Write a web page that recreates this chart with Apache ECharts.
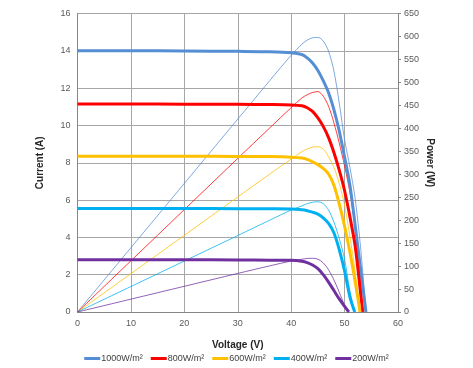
<!DOCTYPE html>
<html>
<head>
<meta charset="utf-8">
<script src="https://cdn.jsdelivr.net/npm/echarts@6/dist/echarts.min.js"></script>
<style>html,body{margin:0;padding:0;background:#fff}#c{width:473px;height:368px}</style>
</head>
<body>
<div id="c"></div>
<script>
// ---- data ----
const seriesNames = ['1000W/m²', '800W/m²', '600W/m²', '400W/m²', '200W/m²'];
const xTicks = [0, 10, 20, 30, 40, 50, 60];
const currentTicks = [0, 2, 4, 6, 8, 10, 12, 14, 16];
const powerTicks = [0, 50, 100, 150, 200, 250, 300, 350, 400, 450, 500, 550, 600, 650];

// 1000 W/m2
const v1000 = [0, 10, 20, 30, 36, 40, 42, 43, 44, 45, 46, 47, 48, 49, 50, 51, 52, 53, 54];
const i1000 = [14.0, 14.0, 13.99, 13.97, 13.95, 13.9, 13.8, 13.62, 13.35, 12.95, 12.4, 11.75, 10.85, 9.7, 8.3, 6.8, 4.6, 2.3, 0];
const p1000 = [0, 140, 280, 420, 504, 559, 583, 592, 597, 598, 590, 568, 525, 455, 375, 315, 245, 140, 0];
// 800 W/m2
const v800 = [0, 10, 20, 30, 36, 40, 42, 43, 44, 45, 46, 47, 48, 49, 50, 51, 52, 53, 53.4];
const i800 = [11.15, 11.15, 11.14, 11.13, 11.12, 11.1, 11.05, 10.95, 10.75, 10.4, 9.95, 9.35, 8.55, 7.6, 6.5, 5.1, 3.5, 1.0, 0];
const p800 = [0, 111.5, 223, 334.5, 401, 445, 466, 473, 478, 480, 470, 448, 412, 368, 318, 260, 185, 60, 0];
// 600 W/m2
const v600 = [0, 10, 20, 30, 36, 40, 42, 43, 44, 45, 46, 47, 48, 49, 50, 51, 52, 52.9];
const i600 = [8.35, 8.35, 8.35, 8.34, 8.33, 8.3, 8.25, 8.18, 8.05, 7.9, 7.7, 7.4, 6.8, 5.8, 4.6, 3.2, 1.6, 0];
const p600 = [0, 83.5, 167, 250.5, 300.5, 333, 349, 355, 359, 360, 355, 338, 315, 280, 232, 165, 85, 0];
// 400 W/m2
const v400 = [0, 10, 20, 30, 36, 40, 42, 43, 44, 45, 46, 47, 48, 49, 50, 51, 51.9];
const i400 = [5.55, 5.55, 5.55, 5.54, 5.53, 5.52, 5.48, 5.43, 5.35, 5.25, 5.05, 4.75, 4.25, 3.35, 2.2, 0.8, 0];
const p400 = [0, 55.5, 111, 166.5, 200, 222, 231, 236, 239, 240, 236, 222, 196, 160, 115, 45, 0];
// 200 W/m2
const v200 = [0, 10, 20, 30, 36, 40, 42, 43, 44, 45, 46, 47, 48, 49, 50, 50.8];
const i200 = [2.8, 2.8, 2.8, 2.79, 2.78, 2.77, 2.72, 2.65, 2.52, 2.32, 2.0, 1.6, 1.15, 0.7, 0.3, 0];
const p200 = [0, 28, 56, 84, 100.5, 111, 115, 116.5, 117, 115, 107, 92, 70, 43, 15, 0];

const colors = ['#558ed5', '#ff0000', '#ffc000', '#00b0f0', '#7030a0'];
const voltages = [v1000, v800, v600, v400, v200];
const currents = [i1000, i800, i600, i400, i200];
const powers = [p1000, p800, p600, p400, p200];

const zip = (a, b) => a.map((x, k) => [x, b[k]]);
const series = [];
powers.forEach((p, k) => {
  series.push({
    name: 'P ' + seriesNames[k], type: 'line', yAxisIndex: 1,
    data: zip(voltages[k], p), showSymbol: false, smooth: 0.3,
    lineStyle: { color: colors[k], width: 0.9, opacity: 0.85 }, itemStyle: { color: colors[k] },
    z: 2, silent: true
  });
});
currents.forEach((c, k) => {
  series.push({
    name: seriesNames[k], type: 'line', yAxisIndex: 0,
    data: zip(voltages[k], c), showSymbol: false, smooth: 0.3,
    lineStyle: { color: colors[k], width: 3 }, itemStyle: { color: colors[k] },
    z: 3
  });
});

const labelFont = { color: '#595959', fontSize: 9, fontFamily: 'Liberation Sans, Arial, sans-serif' };
const nameFont = { color: '#262626', fontSize: 10, fontWeight: 'bold', fontFamily: 'Liberation Sans, Arial, sans-serif' };

const chart = echarts.init(document.getElementById('c'), null, { renderer: 'canvas' });
chart.setOption({
  animation: false,
  backgroundColor: '#ffffff',
  color: colors,
  grid: { left: 77.5, right: 75, top: 13.5, bottom: 56, containLabel: false },
  legend: {
    data: seriesNames.map((n, k) => ({ name: n, icon: 'rect', itemStyle: { color: colors[k] } })),
    top: 349, left: 'center', itemWidth: 16, itemHeight: 3, itemGap: 8,
    textStyle: { color: '#404040', fontSize: 9, fontFamily: 'Liberation Sans, Arial, sans-serif', padding: [0, 0, 0, -4] }
  },
  xAxis: {
    type: 'value', min: xTicks[0], max: xTicks[xTicks.length - 1], interval: xTicks[1] - xTicks[0],
    name: 'Voltage (V)', nameLocation: 'middle', nameGap: 28, nameTextStyle: nameFont,
    axisLine: { show: true, lineStyle: { color: '#868686', width: 1 } },
    axisTick: { show: false },
    axisLabel: Object.assign({ margin: 7 }, labelFont),
    splitLine: { show: true, lineStyle: { color: '#a6a6a6', width: 1 } }
  },
  yAxis: [{
    type: 'value', position: 'left', min: currentTicks[0], max: currentTicks[currentTicks.length - 1],
    interval: currentTicks[1] - currentTicks[0],
    name: 'Current (A)', nameLocation: 'middle', nameGap: 32, nameTextStyle: nameFont,
    axisLine: { show: true, lineStyle: { color: '#868686', width: 1 } },
    axisTick: { show: false },
    axisLabel: Object.assign({ margin: 7 }, labelFont),
    splitLine: { show: true, lineStyle: { color: '#a6a6a6', width: 1 } }
  }, {
    type: 'value', position: 'right', min: powerTicks[0], max: powerTicks[powerTicks.length - 1],
    interval: powerTicks[1] - powerTicks[0],
    name: 'Power (W)', nameLocation: 'middle', nameGap: 27, nameRotate: -90, nameMoveOverlap: false,
    nameTextStyle: nameFont,
    axisLine: { show: true, lineStyle: { color: '#868686', width: 1 } },
    axisTick: { show: true, length: 3, lineStyle: { color: '#868686' } },
    axisLabel: Object.assign({ margin: 6 }, labelFont),
    splitLine: { show: false }
  }],
  series: series
});
</script>
</body>
</html>
